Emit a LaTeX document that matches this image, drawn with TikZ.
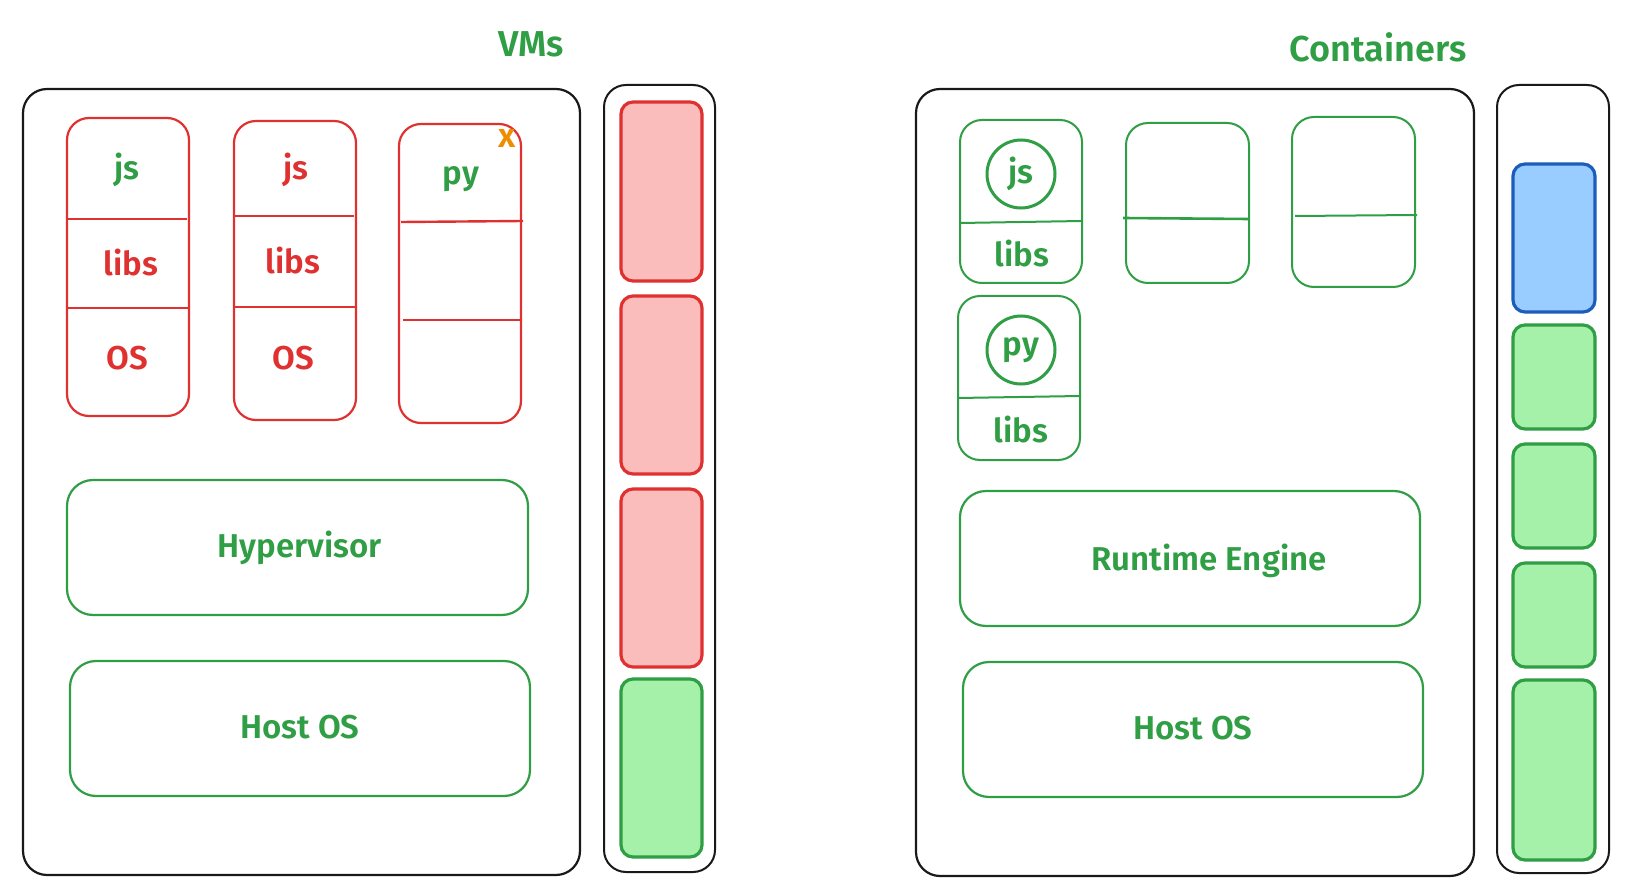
\documentclass[tikz,border=0pt]{standalone}
\usepackage{fontspec}
\setmainfont{Fira Sans}[BoldFont={Fira Sans SemiBold}]
\definecolor{gstroke}{HTML}{2F9E44}
\definecolor{gfill}{HTML}{A5F1AA}
\definecolor{rstroke}{HTML}{E03131}
\definecolor{rfill}{HTML}{FBBCBC}
\definecolor{bstroke}{HTML}{1C5DBB}
\definecolor{bfill}{HTML}{99CCFF}
\definecolor{xorange}{HTML}{F08C00}
\newcommand{\bx}[6]{\node[#6, minimum width={#4-#2}, minimum height={#5-#3}] (#1) at ({(#2+#4)/2},{(#3+#5)/2}) {};}
\begin{document}
\begin{tikzpicture}[x=1pt,y=-1pt,
  outerbox/.style={draw=black!90, line width=2.2pt, rounded corners=24pt, inner sep=0pt},
  sidebar/.style={draw=black!90, line width=2pt, rounded corners=22pt, inner sep=0pt},
  vmbox/.style={draw=rstroke, line width=2.2pt, rounded corners=22pt, inner sep=0pt},
  ctbox/.style={draw=gstroke, line width=2pt, rounded corners=22pt, inner sep=0pt},
  layerbox/.style={draw=gstroke, line width=2.2pt, rounded corners=26pt, inner sep=0pt},
  redblk/.style={draw=rstroke, fill=rfill, line width=3.2pt, rounded corners=12pt, inner sep=0pt},
  greenblk/.style={draw=gstroke, fill=gfill, line width=3.2pt, rounded corners=12pt, inner sep=0pt},
  blueblk/.style={draw=bstroke, fill=bfill, line width=3.2pt, rounded corners=12pt, inner sep=0pt},
  rdiv/.style={draw=rstroke, line width=2.4pt},
  gdiv/.style={draw=gstroke, line width=2pt},
  lbl/.style={font=\fontsize{33}{38}\selectfont\bfseries, inner sep=0pt},
  title/.style={font=\fontsize{36}{42}\selectfont\bfseries, text=gstroke, inner sep=0pt},
  ring/.style={draw=gstroke, line width=3pt, circle, minimum size=68pt, inner sep=0pt, font=\fontsize{33}{38}\selectfont\bfseries, text=gstroke}
]
\useasboundingbox (0,0) rectangle (1634,896);
\fill[white] (0,0) rectangle (1634,896);

% ---------- VMs ----------
\node[title] (vmt) at (531,44) {VMs};
\bx{vmouter}{23}{89}{580}{875}{outerbox}
\bx{vmside}{604}{85}{715}{872}{sidebar}
\bx{vr1}{621}{102}{702}{281}{redblk}
\bx{vr2}{621}{296}{702}{474}{redblk}
\bx{vr3}{621}{489}{702}{667}{redblk}
\bx{vg1}{621}{679}{702}{857}{greenblk}

\bx{vm1}{67}{118}{189}{416}{vmbox}
\bx{vm2}{234}{121}{356}{420}{vmbox}
\bx{vm3}{399}{124}{521}{423}{vmbox}
\coordinate (d1a) at (66,219); \coordinate (d1b) at (187,219);
\coordinate (d2a) at (67,308); \coordinate (d2b) at (190,308);
\draw[rdiv] (d1a) -- (d1b); \draw[rdiv] (d2a) -- (d2b);
\coordinate (d3a) at (233,216); \coordinate (d3b) at (354,216);
\coordinate (d4a) at (234,307); \coordinate (d4b) at (357,307);
\draw[rdiv] (d3a) -- (d3b); \draw[rdiv] (d4a) -- (d4b);
\coordinate (d5a) at (401,222); \coordinate (d5b) at (523,221);
\coordinate (d6a) at (403,320); \coordinate (d6b) at (522,320);
\draw[rdiv] (d5a) -- (d5b); \draw[rdiv] (d6a) -- (d6b);

\node[lbl, text=gstroke] (js1) at (127,170) {js};
\node[lbl, text=rstroke] (libs1) at (131,263) {libs};
\node[lbl, text=rstroke] (os1) at (127,358) {OS};
\node[lbl, text=rstroke] (js2) at (296,170) {js};
\node[lbl, text=rstroke] (libs2) at (293,261) {libs};
\node[lbl, text=rstroke] (os2) at (293,358) {OS};
\node[lbl, text=gstroke] (py3) at (461,179) {py};
\node[font=\fontsize{34}{38}\selectfont\bfseries, text=xorange, inner sep=0pt] (xm) at (507,138) {x};

\bx{hyp}{67}{480}{528}{615}{layerbox}
\node[lbl, text=gstroke] (hypt) at (300,548) {Hypervisor};
\bx{hos1}{70}{661}{530}{796}{layerbox}
\node[lbl, text=gstroke] (hos1t) at (300,727) {Host OS};

% ---------- Containers ----------
\node[title] (ctt) at (1378,47) {Containers};
\bx{ctouter}{916}{89}{1474}{876}{outerbox}
\bx{ctside}{1497}{85}{1609}{873}{sidebar}
\bx{cb1}{1513}{164}{1595}{312}{blueblk}
\bx{cg1}{1513}{325}{1595}{429}{greenblk}
\bx{cg2}{1513}{444}{1595}{548}{greenblk}
\bx{cg3}{1513}{563}{1595}{667}{greenblk}
\bx{cg4}{1513}{680}{1595}{860}{greenblk}

\bx{c1}{960}{120}{1082}{283}{ctbox}
\bx{c2}{1126}{123}{1249}{283}{ctbox}
\bx{c3}{1292}{117}{1415}{287}{ctbox}
\bx{c4}{958}{296}{1080}{460}{ctbox}
\coordinate (e1a) at (960,223); \coordinate (e1b) at (1082,221);
\coordinate (e2a) at (1123,218); \coordinate (e2b) at (1249,219);
\coordinate (e3a) at (1295,216); \coordinate (e3b) at (1417,215);
\coordinate (e4a) at (958,398); \coordinate (e4b) at (1080,396);
\draw[gdiv] (e1a) -- (e1b); \draw[gdiv, line width=2.6pt] (e2a) -- (e2b);
\draw[gdiv] (e3a) -- (e3b); \draw[gdiv] (e4a) -- (e4b);

\node[ring] (jsc) at (1021,174) {js};
\node[lbl, text=gstroke] (libsc1) at (1022,254) {libs};
\node[ring] (pyc) at (1021,350) {py};
\node[lbl, text=gstroke] (libsc2) at (1021,430) {libs};

\bx{rte}{960}{491}{1420}{626}{layerbox}
\node[lbl, text=gstroke] (rtet) at (1209,561) {Runtime Engine};
\bx{hos2}{963}{662}{1423}{797}{layerbox}
\node[lbl, text=gstroke] (hos2t) at (1193,728) {Host OS};
\end{tikzpicture}
\end{document}
